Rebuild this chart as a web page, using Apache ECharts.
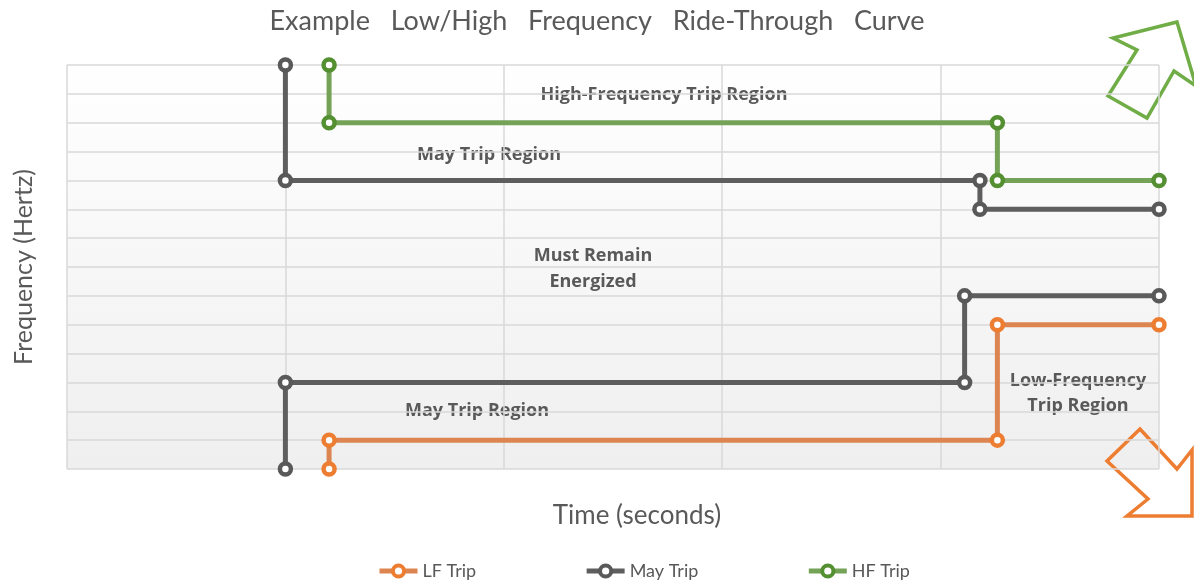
<!DOCTYPE html>
<html>
<head>
<meta charset="utf-8">
<script src="https://cdn.jsdelivr.net/npm/echarts@6/dist/echarts.min.js"></script>
<style>html,body{margin:0;padding:0;background:#fff}#c{width:1194px;height:587px}</style>
</head>
<body>
<div id="c"></div>
<script>
// Data (x: time units, y: frequency grid units)
const lfTrip = [[1.2, 0], [1.2, 1], [4.26, 1], [4.26, 5], [5, 5]];
const mayTripHigh = [[1, 14], [1, 10], [4.18, 10], [4.18, 9], [5, 9]];
const mayTripLow = [[1, 0], [1, 3], [4.11, 3], [4.11, 6], [5, 6]];
const hfTrip = [[1.2, 14], [1.2, 12], [4.26, 12], [4.26, 10], [5, 10]];
const legendNames = ['LF Trip', 'May Trip', 'HF Trip'];

const FONT = 'Lato, "Open Sans", sans-serif';
const BFONT = '"Open Sans", Lato, sans-serif';
const TXT = '#595959';
const chart = echarts.init(document.getElementById('c'), null, {renderer: 'canvas'});

function lineSeries(name, data, lineColor, markColor) {
  return {
    name: name, type: 'line', data: data,
    symbol: 'circle', symbolSize: 11, showAllSymbol: true,
    lineStyle: {color: lineColor, width: 5},
    itemStyle: {color: '#ffffff', borderColor: markColor, borderWidth: 4.5},
    emphasis: {disabled: true}, animation: false, z: 3
  };
}

const labelStyle = {fill: TXT, font: 'bold 18px ' + BFONT, textAlign: 'center', textVerticalAlign: 'middle'};

chart.setOption({
  animation: false,
  title: {
    text: 'Example   Low/High   Frequency   Ride-Through   Curve',
    left: 'center', top: 3,
    textStyle: {color: TXT, fontSize: 27, fontWeight: 'normal', fontFamily: FONT}
  },
  grid: {
    left: 67, right: 35, top: 65, bottom: 118, show: true, borderWidth: 0,
    backgroundColor: new echarts.graphic.LinearGradient(0, 0, 0, 1, [
      {offset: 0, color: '#ffffff'}, {offset: 1, color: '#efefef'}
    ])
  },
  legend: {
    data: legendNames, bottom: 2, left: 372, itemGap: 108,
    itemWidth: 38, itemHeight: 14,
    lineStyle: {width: 5},
    itemStyle: {borderWidth: 4},
    textStyle: {color: TXT, fontSize: 18, fontFamily: FONT}
  },
  xAxis: {
    type: 'value', min: 0, max: 5, interval: 1,
    name: 'Time (seconds)', nameLocation: 'middle', nameGap: 34,
    nameTextStyle: {color: TXT, fontSize: 26, fontFamily: FONT, padding: [0, 0, 0, 48]},
    axisLine: {show: false}, axisTick: {show: false}, axisLabel: {show: false},
    splitLine: {show: true, lineStyle: {color: '#d9d9d9', width: 1.5}}
  },
  yAxis: {
    type: 'value', min: 0, max: 14, interval: 1,
    name: 'Frequency (Hertz)', nameLocation: 'middle', nameGap: 31,
    nameTextStyle: {color: TXT, fontSize: 25, fontFamily: FONT},
    axisLine: {show: false}, axisTick: {show: false}, axisLabel: {show: false},
    splitLine: {show: true, lineStyle: {color: '#d9d9d9', width: 1.5}}
  },
  series: [
    lineSeries('LF Trip', lfTrip, '#DC8550', '#ED7D31'),
    lineSeries('May Trip', mayTripHigh, '#5e5e5e', '#595959'),
    lineSeries('May Trip', mayTripLow, '#5e5e5e', '#595959'),
    lineSeries('HF Trip', hfTrip, '#74A257', '#548F32')
  ],
  graphic: [
    {type: 'text', x: 664, y: 95, silent: true, style: Object.assign({}, labelStyle, {text: 'High-Frequency Trip Region'})},
    {type: 'text', x: 489, y: 155, silent: true, style: Object.assign({}, labelStyle, {text: 'May Trip Region'})},
    {type: 'text', x: 593, y: 269, silent: true, style: Object.assign({}, labelStyle, {text: 'Must Remain\nEnergized', lineHeight: 26})},
    {type: 'text', x: 1078, y: 393, silent: true, style: Object.assign({}, labelStyle, {text: 'Low-Frequency\nTrip Region', lineHeight: 25})},
    {type: 'text', x: 477, y: 411, silent: true, style: Object.assign({}, labelStyle, {text: 'May Trip Region'})},
    {type: 'polygon', silent: true, shape: {points: [[1177, 22], [1113, 38], [1137, 50], [1108, 96], [1147, 118], [1174, 71], [1196, 86]]},
      style: {fill: 'rgba(255,255,255,0)', stroke: '#70AD47', lineWidth: 3.5}},
    {type: 'polygon', silent: true, shape: {points: [[1140, 429], [1107, 461], [1148, 499], [1127, 516], [1192, 516], [1192, 450], [1177, 469]]},
      style: {fill: 'rgba(255,255,255,0)', stroke: '#ED7D31', lineWidth: 3.5}}
  ]
});
</script>
</body>
</html>
